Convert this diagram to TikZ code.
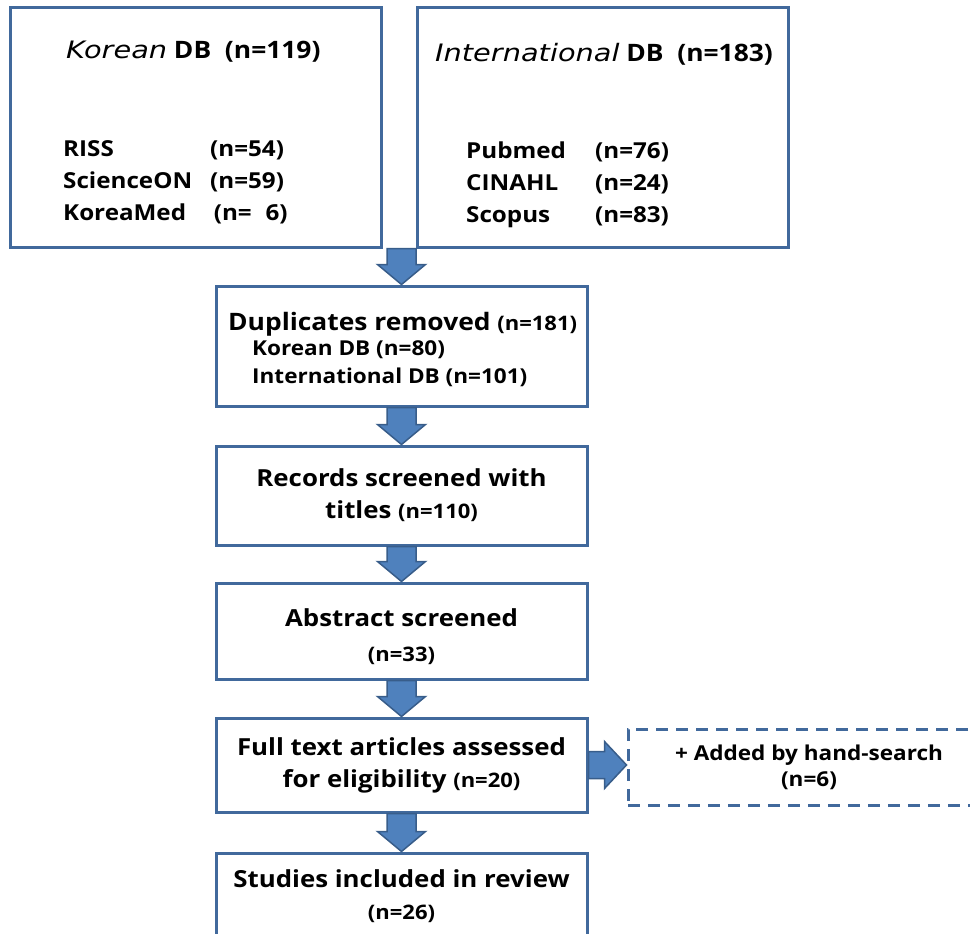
\documentclass[tikz,border=0pt]{standalone}
\usepackage{fontspec}
\setmainfont[FakeStretch=1.1]{Open Sans}
\newfontfamily\slantfont[FakeStretch=1.2]{DejaVu Sans}
\usetikzlibrary{calc}
\definecolor{boxline}{RGB}{65,105,156}
\definecolor{arrfill}{RGB}{79,129,189}
\definecolor{arrline}{RGB}{56,93,138}
\newcommand{\nsmall}[1]{{\fontsize{20}{26}\selectfont #1}}
\newcommand{\downarr}[2]{%
  \draw[blockarrow] let \p1=(#1), \p2=(#2) in
    (\x2-14.5pt,\y1) -- (\x2+14.5pt,\y1) -- (\x2+14.5pt,\y2+20pt) -- (\x2+24pt,\y2+20pt)
    -- (\x2,\y2) -- (\x2-24pt,\y2+20pt) -- (\x2-14.5pt,\y2+20pt) -- cycle;}
\newcommand{\rightarr}[2]{%
  \draw[blockarrow] let \p1=(#1), \p2=(#2) in
    (\x1,\y1+13.5pt) -- (\x2-22pt,\y1+13.5pt) -- (\x2-22pt,\y1+23.5pt) -- (\x2,\y1)
    -- (\x2-22pt,\y1-23.5pt) -- (\x2-22pt,\y1-13.5pt) -- (\x1,\y1-13.5pt) -- cycle;}
\tikzset{
  stagebox/.style={rectangle,draw=boxline,line width=3pt,minimum width=371pt,inner sep=0pt,
    align=center,font=\bfseries\fontsize{23.5}{32}\selectfont},
  handbox/.style={stagebox,minimum width=362pt,dash pattern=on 12pt off 8pt,
    font=\bfseries\fontsize{20.5}{26}\selectfont},
  blockarrow/.style={fill=arrfill,draw=arrline,line width=1.5pt,line join=miter},
  dbtitle/.style={anchor=base west,inner sep=0pt,font=\fontsize{24}{28}\selectfont},
  dblist/.style={anchor=base west,inner sep=0pt,font=\bfseries\fontsize{22}{32}\selectfont}
}
\begin{document}
\begin{tikzpicture}[x=1pt,y=-1pt]
\path[use as bounding box,clip] (0,0) rectangle (970,934);
\node[stagebox,minimum height=239pt] (korean) at (195.5,127.5) {};
\node[stagebox,minimum height=239pt] (intl) at (603,127.5) {};
\node[stagebox,minimum height=120pt] (dup) at (401.5,346) {};
\node[stagebox,minimum height=99pt] (rec) at (401.5,495.5) {Records screened with\\titles \nsmall{(n=110)}};
\node[stagebox,minimum height=96pt] (abs) at (401.5,631) {\raisebox{-7pt}[\height][\depth]{\begin{tabular}{@{}c@{}}
  Abstract screened\\[3pt]\nsmall{(n=33)}\end{tabular}}};
\node[stagebox,minimum height=94pt] (full) at (401.5,765) {Full text articles assessed\\for eligibility \nsmall{(n=20)}};
\node[stagebox,minimum height=87pt] (stud) at (401.5,896.5) {Studies included in review\\\nsmall{(n=26)}};
\node[handbox,minimum height=76pt] (hand) at (809,767) {+ Added by hand-search\\(n=6)};

\node[dbtitle] (kortitle) at (66,59) {{\slantfont\itshape Korean} \textbf{DB\ \ (n=119)}};
\node[dblist] (korlist) at (63,157) {\begin{tabular}[t]{@{}p{147pt}@{}l@{}}
  RISS & (n=54)\\ ScienceON & (n=59)\\ KoreaMed & \,(n=\phantom{0}6)\end{tabular}};
\node[dbtitle] (inttitle) at (435,62) {{\slantfont\itshape International} \textbf{DB\ \ (n=183)}};
\node[dblist] (intlist) at (466,158) {\begin{tabular}[t]{@{}p{129pt}@{}l@{}}
  Pubmed & (n=76)\\ CINAHL & (n=24)\\ Scopus & (n=83)\end{tabular}};
\node[dblist,font=\bfseries\fontsize{24}{32}\selectfont] (duptitle) at (228,330) {Duplicates removed \nsmall{(n=181)}};
\node[dblist,font=\bfseries\fontsize{20.5}{28}\selectfont] (duplist) at (252,355) {\begin{tabular}[t]{@{}l@{}}
  Korean DB (n=80)\\ International DB (n=101)\end{tabular}};

\downarr{korean.south}{dup.north}
\downarr{dup.south}{rec.north}
\downarr{rec.south}{abs.north}
\downarr{abs.south}{full.north}
\downarr{full.south}{stud.north}
\rightarr{full.east}{hand.west}
\end{tikzpicture}
\end{document}
